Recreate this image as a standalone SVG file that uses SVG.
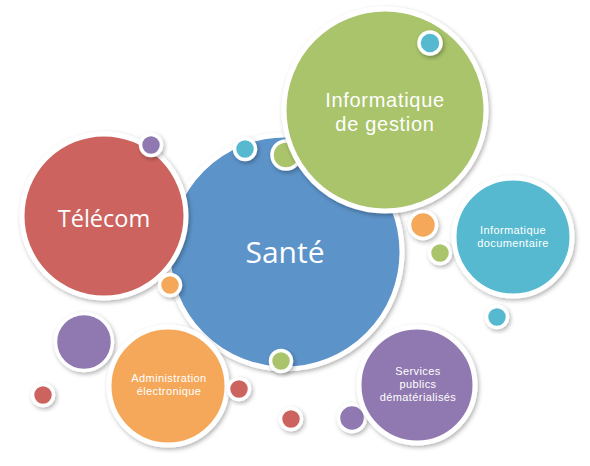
<svg xmlns="http://www.w3.org/2000/svg" width="590" height="466" viewBox="0 0 590 466">
<defs>
<filter id="sh" x="-20%" y="-20%" width="150%" height="150%">
<feDropShadow dx="1.5" dy="2" stdDeviation="2" flood-color="#000" flood-opacity="0.3"/>
</filter>
<style>
.c{stroke:#fff;filter:url(#sh)}
.big{stroke-width:5}
.sm{stroke-width:3.5}
.blue{fill:#5B93C9}
.red{fill:#CD645E}
.green{fill:#A9C46B}
.cyan{fill:#56B9D0}
.purple{fill:#8F79B0}
.orange{fill:#F5A85A}
text{font-family:"Open Sans","Liberation Sans",sans-serif;fill:#fff;text-anchor:middle}
.s{font-family:"Liberation Sans",Arial,sans-serif;font-size:11px;letter-spacing:0.4px}
.g{font-family:"Liberation Sans",Arial,sans-serif;font-size:20px;letter-spacing:0.7px}
</style>
</defs>
<rect width="590" height="466" fill="#fff"/>
<g id="sante"><circle class="c big blue" cx="285" cy="252" r="117"/><text x="285" y="263" font-size="30">Santé</text></g>
<g id="dot-cyan1"><circle class="c sm cyan" cx="245" cy="149" r="10.5"/></g>
<g id="dot-green1"><circle class="c sm green" cx="286" cy="155" r="14"/></g>
<g id="dot-green2"><circle class="c sm green" cx="281" cy="361" r="10.5"/></g>
<g id="telecom"><circle class="c big red" cx="104" cy="216" r="82"/><text x="104" y="227" font-size="23.5">Télécom</text></g>
<g id="dot-purple1"><circle class="c sm purple" cx="151" cy="145" r="10.5"/></g>
<g id="dot-orange1"><circle class="c sm orange" cx="170" cy="285" r="10.5"/></g>
<g id="gestion"><circle class="c big green" cx="385" cy="110" r="101"/><text class="g" x="385" y="107">Informatique</text><text class="g" x="385" y="131">de gestion</text></g>
<g id="dot-cyan2"><circle class="c sm cyan" cx="430" cy="43" r="11"/></g>
<g id="dot-orange2"><circle class="c sm orange" cx="423" cy="225" r="13.5"/></g>
<g id="dot-green3"><circle class="c sm green" cx="440" cy="253" r="10.5"/></g>
<g id="documentaire"><circle class="c big cyan" cx="513" cy="237" r="59"/><text class="s" x="513" y="234">Informatique</text><text class="s" x="513" y="247">documentaire</text></g>
<g id="dot-cyan3"><circle class="c sm cyan" cx="497" cy="317" r="10.5"/></g>
<g id="dot-purple2"><circle class="c sm purple" cx="352" cy="418" r="13.5"/></g>
<g id="services"><circle class="c big purple" cx="417" cy="385" r="58"/><text class="s" x="418" y="375">Services</text><text class="s" x="418" y="388">publics</text><text class="s" x="418" y="401">dématérialisés</text></g>
<g id="dot-purple3"><circle class="c sm purple" cx="84" cy="342" r="28.5"/></g>
<g id="administration"><circle class="c big orange" cx="168" cy="386" r="59"/><text class="s" x="169" y="382">Administration</text><text class="s" x="169" y="395">électronique</text></g>
<g id="dot-red1"><circle class="c sm red" cx="43" cy="395" r="10.5"/></g>
<g id="dot-red2"><circle class="c sm red" cx="239" cy="389" r="10.5"/></g>
<g id="dot-red3"><circle class="c sm red" cx="291" cy="419" r="10.5"/></g>
<g id="connectors"></g>
</svg>
